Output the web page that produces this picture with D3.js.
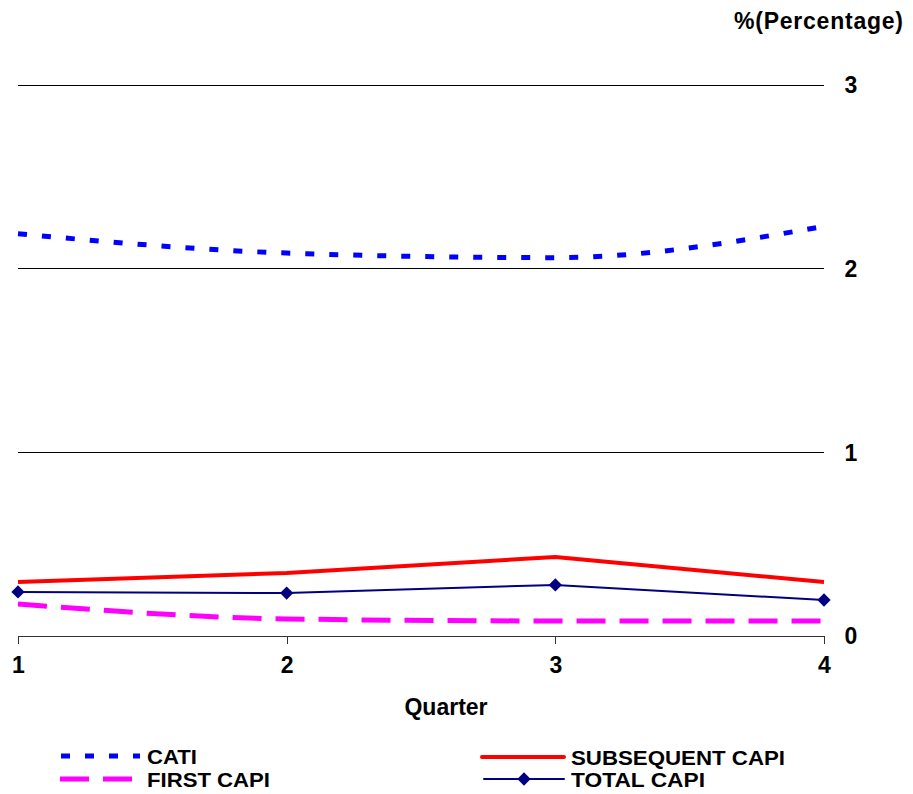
<!DOCTYPE html>
<html>
<head>
<meta charset="utf-8">
<script src="https://cdn.jsdelivr.net/npm/d3@7"></script>
<style>
  html, body { margin: 0; padding: 0; background: #fff; }
  svg { display: block; font-family: "Liberation Sans", Arial, sans-serif; font-weight: bold; }
</style>
</head>
<body>
<svg id="chart" width="913" height="794"></svg>
<script>
const quarters = [1, 2, 3, 4];
const cati = [2.19, 2.085, 2.06, 2.23];
const subsequentCapi = [0.294, 0.343, 0.43, 0.294];
const totalCapi = [0.24, 0.234, 0.278, 0.196];
const firstCapi = [0.174, 0.093, 0.082, 0.082];
const yTicks = [0, 1, 2, 3];
const yLabel = "%(Percentage)";
const xLabel = "Quarter";

const svg = d3.select("#chart");
const x = d3.scaleLinear().domain([1, 4]).range([18, 824]);
const y = d3.scaleLinear().domain([0, 3]).range([636, 85]);

// gridlines
svg.append("g").selectAll("line").data(yTicks.filter(d => d > 0)).join("line")
  .attr("x1", x(1)).attr("x2", x(4))
  .attr("y1", d => y(d)).attr("y2", d => y(d))
  .attr("stroke", "#000").attr("stroke-width", 1).attr("shape-rendering", "crispEdges");

// y labels (right side)
svg.append("g").selectAll("text").data(yTicks).join("text")
  .attr("x", 851).attr("y", d => y(d)).attr("dy", "0.36em")
  .attr("text-anchor", "middle").attr("font-size", 23).text(d => d);

// x axis
const xAxis = d3.axisBottom(x).tickValues(quarters).tickSize(8).tickSizeOuter(0).tickFormat(d3.format("d"));
const gx = svg.append("g").attr("transform", `translate(0,${y(0)})`).call(xAxis);
gx.select(".domain").attr("stroke", "#333").attr("shape-rendering", "crispEdges");
gx.selectAll(".tick line").attr("stroke", "#333").attr("shape-rendering", "crispEdges");
gx.selectAll(".tick text").attr("font-size", 23).attr("font-weight", "bold")
  .attr("font-family", "Liberation Sans, Arial, sans-serif").attr("fill", "#000")
  .attr("y", 21).attr("dy", "0.71em");

svg.append("text").attr("x", 446).attr("y", 715).attr("text-anchor", "middle")
  .attr("font-size", 23).text(xLabel);
svg.append("text").attr("x", 903).attr("y", 29).attr("text-anchor", "end")
  .attr("font-size", 23).attr("textLength", 169).attr("lengthAdjust", "spacing").text(yLabel);

const smooth = d3.line().x((d, i) => x(quarters[i])).y(d => y(d)).curve(d3.curveMonotoneX);
const straight = d3.line().x((d, i) => x(quarters[i])).y(d => y(d));

svg.append("path").attr("d", smooth(firstCapi)).attr("fill", "none")
  .attr("stroke", "#FF00FF").attr("stroke-width", 5).attr("stroke-dasharray", "29,14");
svg.append("path").attr("d", smooth(cati)).attr("fill", "none")
  .attr("stroke", "#0000FF").attr("stroke-width", 5).attr("stroke-dasharray", "9,15");
svg.append("path").attr("d", straight(subsequentCapi)).attr("fill", "none")
  .attr("stroke", "#FF0000").attr("stroke-width", 4).attr("stroke-linejoin", "round");
svg.append("path").attr("d", straight(totalCapi)).attr("fill", "none")
  .attr("stroke", "#000080").attr("stroke-width", 2);

const diamond = d3.symbol().type(d3.symbolSquare).size(88);
svg.append("g").selectAll("path").data(totalCapi).join("path")
  .attr("d", diamond)
  .attr("transform", (d, i) => `translate(${x(quarters[i])},${y(d)}) rotate(45)`)
  .attr("fill", "#000080");

// legend
const legend = [
  { name: "CATI", color: "#0000FF", w: 5, dash: "9,15", x1: 61, x2: 140, ly: 756, tx: 147, tl: 50, marker: false },
  { name: "FIRST CAPI", color: "#FF00FF", w: 5, dash: "29,14", x1: 60, x2: 140, ly: 779, tx: 147, tl: 123, marker: false },
  { name: "SUBSEQUENT CAPI", color: "#FF0000", w: 4, dash: null, x1: 482, x2: 564, ly: 757, tx: 571, tl: 214, marker: false },
  { name: "TOTAL CAPI", color: "#000080", w: 2, dash: null, x1: 484, x2: 564, ly: 779, tx: 571, tl: 134, marker: true }
];
const lg = svg.append("g");
legend.forEach(l => {
  lg.append("line").attr("x1", l.x1).attr("x2", l.x2).attr("y1", l.ly).attr("y2", l.ly)
    .attr("stroke", l.color).attr("stroke-width", l.w)
    .attr("stroke-dasharray", l.dash).attr("stroke-linecap", l.dash ? "butt" : "round");
  if (l.marker) {
    lg.append("path").attr("d", diamond)
      .attr("transform", `translate(${(l.x1 + l.x2) / 2},${l.ly}) rotate(45)`).attr("fill", l.color);
  }
  lg.append("text").attr("x", l.tx).attr("y", l.ly + 8).attr("font-size", 21)
    .attr("textLength", l.tl).attr("lengthAdjust", "spacingAndGlyphs").text(l.name);
});
</script>
</body>
</html>
